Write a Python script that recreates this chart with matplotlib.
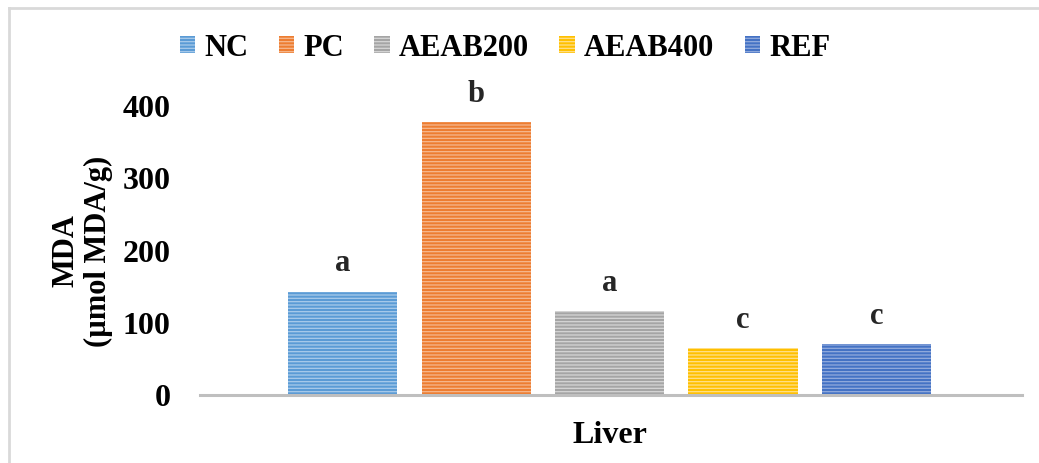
import numpy as np
import matplotlib
matplotlib.use("Agg")
import matplotlib.pyplot as plt
from matplotlib.lines import Line2D

plt.rcParams['font.family'] = ['Liberation Serif', 'DejaVu Serif']
plt.rcParams['font.weight'] = 'bold'
plt.rcParams['hatch.linewidth'] = 0.9

# данные
groups = ['NC', 'PC', 'AEAB200', 'AEAB400', 'REF']
mda = [143, 378, 116, 65, 70]
letters = ['a', 'b', 'a', 'c', 'c']
organ = 'Liver'

colors = ['#5B9BD5', '#ED7D31', '#A5A5A5', '#FFC000', '#4472C4']
stripes = ['#A9CBEA', '#F6B88E', '#D6D6D6', '#FFE08A', '#92ABDD']

fig = plt.figure(figsize=(10.39, 4.63), dpi=100)
ax = fig.add_axes([200 / 1039, 68 / 463, 822 / 1039, (395 - 106) / 463])

offsets = np.arange(len(groups)) - 2
for off, val, c, s, g, let in zip(offsets, mda, colors, stripes, groups, letters):
    ax.bar(off, val, width=0.82, color=c, edgecolor=s, linewidth=0,
           hatch='-----', label=g)
    ax.annotate(let, (off, val), xytext=(0, 20), textcoords='offset points',
                ha='center', va='center', fontsize=22, fontweight='bold',
                color='#262626', annotation_clip=False)

ax.set_xlim(-3.07, 3.09)
ax.set_ylim(0, 400)
ax.set_yticks([0, 100, 200, 300, 400])
ax.set_xticks([0])
ax.set_xticklabels([organ])
ax.tick_params(axis='y', length=0, pad=21, labelsize=23)
ax.tick_params(axis='x', length=0, pad=19, labelsize=23)
for sp in ['left', 'right', 'top']:
    ax.spines[sp].set_visible(False)
ax.spines['bottom'].set_color('#BFBFBF')
ax.spines['bottom'].set_linewidth(2.2)

fig.text(82 / 1039, 1 - 251 / 463, 'MDA\n(µmol MDA/g)', rotation=90,
         ha='center', va='center', multialignment='center',
         fontsize=22, fontweight='bold', linespacing=1.15)

fig.legend(loc='center', bbox_to_anchor=(505 / 1039, 1 - 48 / 463), ncol=5,
           frameon=False, fontsize=22, handlelength=0.5, handleheight=0.5,
           handletextpad=0.3, columnspacing=1.0, borderpad=0)

# рамка
x0, y0 = 9 / 1039, 1 - 8 / 463
fig.add_artist(Line2D([x0, x0], [0, y0], color='#D9D9D9', lw=2))
fig.add_artist(Line2D([x0, 1], [y0, y0], color='#D9D9D9', lw=2))

fig.savefig('out.png', dpi=100)
